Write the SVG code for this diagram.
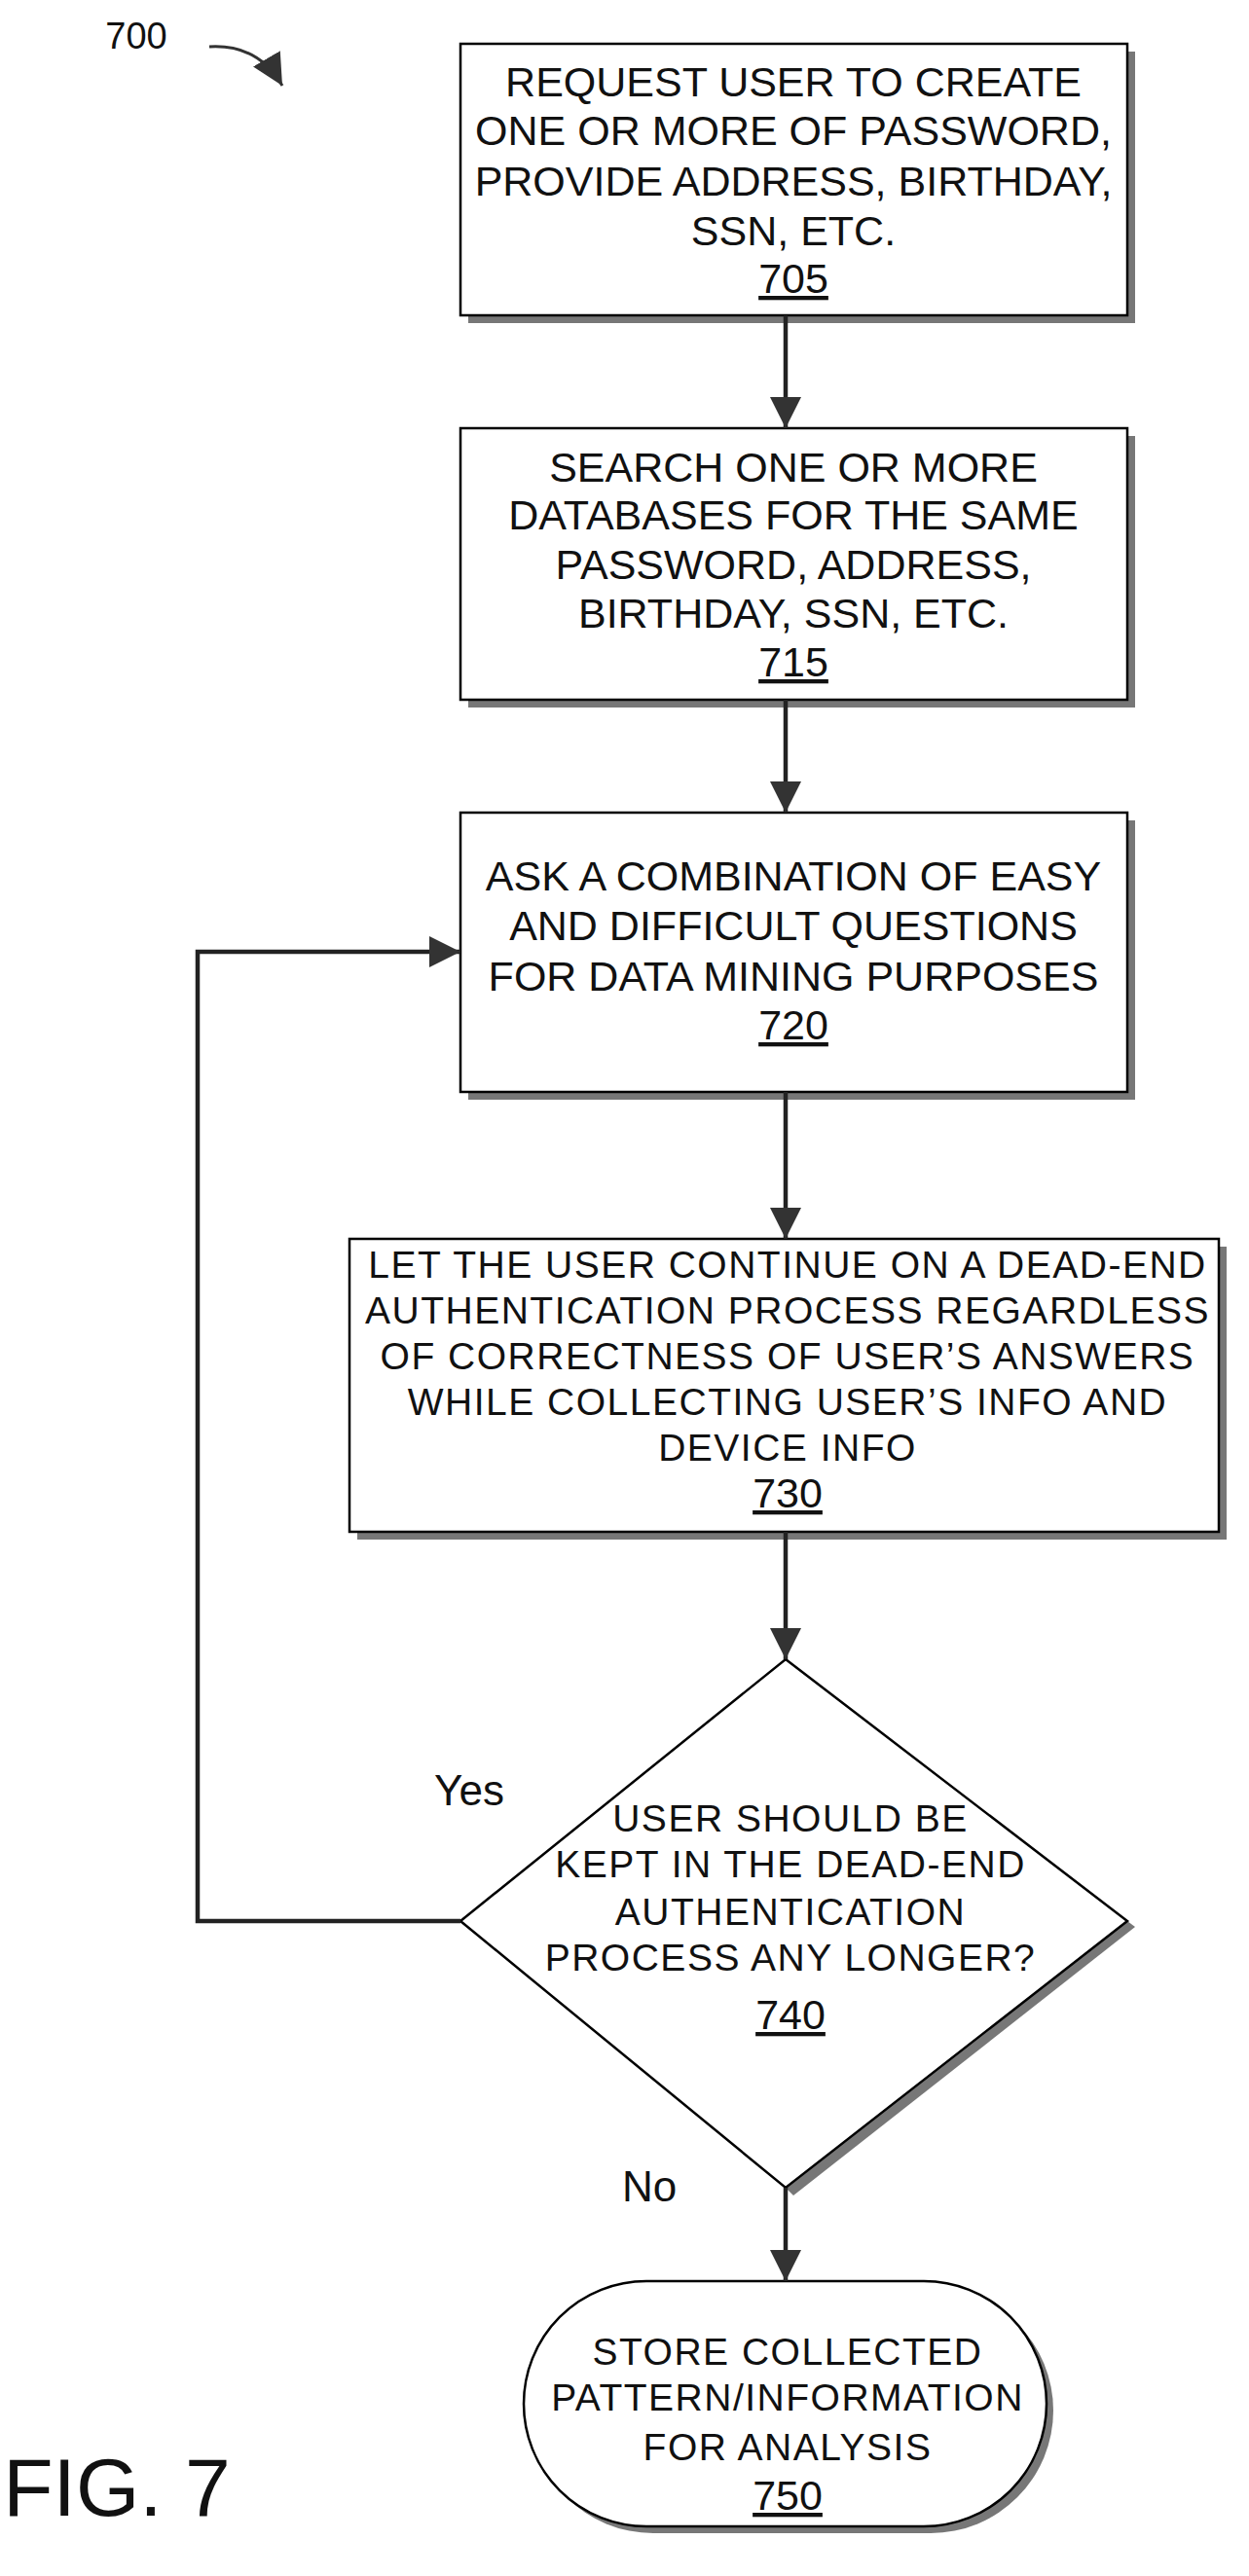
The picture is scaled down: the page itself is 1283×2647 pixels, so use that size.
<svg xmlns="http://www.w3.org/2000/svg" width="1283" height="2647" viewBox="0 0 1283 2647">
<defs>
<marker id="ah" viewBox="0 0 10 10" refX="10" refY="5" markerWidth="32" markerHeight="32" markerUnits="userSpaceOnUse" orient="auto"><path d="M0,0 L10,5 L0,10 z" fill="#333"/></marker>
</defs>
<style>
.b{fill:#fff;stroke:#000;stroke-width:2.5}
.s{fill:#777}
.t{font-family:"Liberation Sans",Arial,sans-serif;font-size:43px;text-anchor:middle;fill:#111}
.w{font-size:39px;letter-spacing:1.5px}
.c{stroke:#222;stroke-width:4.5;fill:none}
</style>
<rect width="1283" height="2647" fill="#fff"/>
<text class="t" x="140" y="50" style="font-size:38px">700</text>
<path d="M215,48 Q265,45 290,88" fill="none" stroke="#333" stroke-width="3" marker-end="url(#ah)"/>
<g transform="translate(12,0)">
<g id="n705">
<rect class="s" x="469" y="53" width="685" height="279"/>
<rect class="b" x="461" y="45" width="685" height="279"/>
<text class="t" x="803" y="99">REQUEST USER TO CREATE</text>
<text class="t" x="803" y="149">ONE OR MORE OF PASSWORD,</text>
<text class="t" x="803" y="201">PROVIDE ADDRESS, BIRTHDAY,</text>
<text class="t" x="803" y="252">SSN, ETC.</text>
<text class="t" x="803" y="301" text-decoration="underline">705</text>
</g>
<g id="n715">
<rect class="s" x="469" y="448" width="685" height="279"/>
<rect class="b" x="461" y="440" width="685" height="279"/>
<text class="t" x="803" y="495">SEARCH ONE OR MORE</text>
<text class="t" x="803" y="544">DATABASES FOR THE SAME</text>
<text class="t" x="803" y="595">PASSWORD, ADDRESS,</text>
<text class="t" x="803" y="645">BIRTHDAY, SSN, ETC.</text>
<text class="t" x="803" y="695" text-decoration="underline">715</text>
</g>
<g id="n720">
<rect class="s" x="469" y="843" width="685" height="287"/>
<rect class="b" x="461" y="835" width="685" height="287"/>
<text class="t" x="803" y="915">ASK A COMBINATION OF EASY</text>
<text class="t" x="803" y="966">AND DIFFICULT QUESTIONS</text>
<text class="t" x="803" y="1018">FOR DATA MINING PURPOSES</text>
<text class="t" x="803" y="1068" text-decoration="underline">720</text>
</g>
<g id="n730">
<rect class="s" x="355" y="1281" width="893" height="301"/>
<rect class="b" x="347" y="1273" width="893" height="301"/>
<text class="t w" x="797" y="1313">LET THE USER CONTINUE ON A DEAD-END</text>
<text class="t w" x="797" y="1360">AUTHENTICATION PROCESS REGARDLESS</text>
<text class="t w" x="797" y="1407">OF CORRECTNESS OF USER’S ANSWERS</text>
<text class="t w" x="797" y="1454">WHILE COLLECTING USER’S INFO AND</text>
<text class="t w" x="797" y="1501">DEVICE INFO</text>
<text class="t" x="797" y="1549" text-decoration="underline">730</text>
</g>
<g id="n740">
<path class="s" d="M1146,1974 L1154,1980 L803,2256 L795,2248 z"/>
<path class="b" d="M795,1705 L1146,1974 L795,2248 L461,1974 z"/>
<text class="t w" x="800" y="1882">USER SHOULD BE</text>
<text class="t w" x="800" y="1929">KEPT IN THE DEAD-END</text>
<text class="t w" x="800" y="1978">AUTHENTICATION</text>
<text class="t w" x="800" y="2025">PROCESS ANY LONGER?</text>
<text class="t" x="800" y="2085" text-decoration="underline">740</text>
</g>
<g id="n750">
<rect class="s" x="533" y="2351" width="537" height="252" rx="126"/>
<rect class="b" x="526" y="2344" width="537" height="252" rx="126"/>
<text class="t w" x="797" y="2430">STORE COLLECTED</text>
<text class="t w" x="797" y="2477">PATTERN/INFORMATION</text>
<text class="t w" x="797" y="2528">FOR ANALYSIS</text>
<text class="t" x="797" y="2579" text-decoration="underline">750</text>
</g>
<g id="connectors">
<line class="c" x1="795" y1="324" x2="795" y2="440" marker-end="url(#ah)"/>
<line class="c" x1="795" y1="719" x2="795" y2="835" marker-end="url(#ah)"/>
<line class="c" x1="795" y1="1122" x2="795" y2="1273" marker-end="url(#ah)"/>
<line class="c" x1="795" y1="1574" x2="795" y2="1705" marker-end="url(#ah)"/>
<polyline class="c" points="461,1974 191,1974 191,978 461,978" marker-end="url(#ah)"/>
<line class="c" x1="795" y1="2248" x2="795" y2="2344" marker-end="url(#ah)"/>
<text class="t" x="470" y="1855" style="font-size:44px">Yes</text>
<text class="t" x="655" y="2262" style="font-size:44px">No</text>
</g>
</g>
<text class="t" x="120" y="2585" style="font-size:84px">FIG. 7</text>
</svg>
